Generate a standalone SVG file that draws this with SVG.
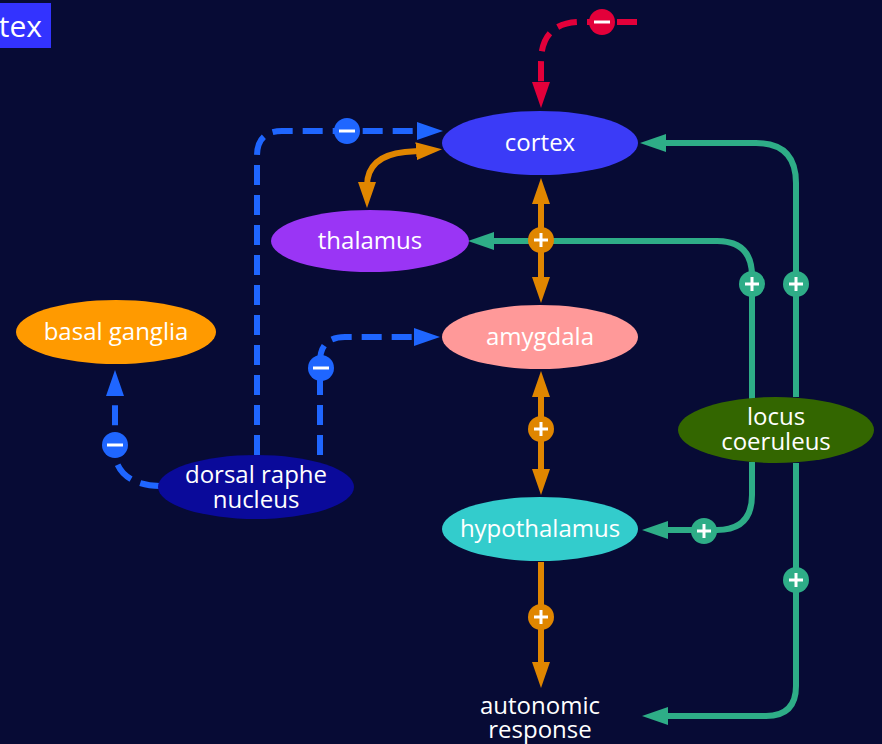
<svg xmlns="http://www.w3.org/2000/svg" width="882" height="744" viewBox="0 0 882 744">
<defs>
<style>
.lbl{font-family:"Open Sans","Noto Sans","Liberation Sans",sans-serif;font-size:24px;fill:#ffffff;text-anchor:middle}
.or{fill:none;stroke:#e08600;stroke-width:6}
.gr{fill:none;stroke:#2ead87;stroke-width:6}
.bl{fill:none;stroke:#1f66ff;stroke-width:6;stroke-dasharray:20 10}
.rd{fill:none;stroke:#e3003a;stroke-width:6;stroke-dasharray:20 10}
.sign{stroke:#ffffff;stroke-width:3;fill:none}
</style>
<marker id="aO" viewBox="0 0 26 18" refX="16" refY="9" markerWidth="26" markerHeight="18" markerUnits="userSpaceOnUse" orient="auto-start-reverse"><path d="M0,0 L26,9 L0,18 Z" fill="#e08600"/></marker>
<marker id="aG" viewBox="0 0 26 18" refX="16" refY="9" markerWidth="26" markerHeight="18" markerUnits="userSpaceOnUse" orient="auto"><path d="M0,0 L26,9 L0,18 Z" fill="#2ead87"/></marker>
<marker id="aB" viewBox="0 0 26 18" refX="16" refY="9" markerWidth="26" markerHeight="18" markerUnits="userSpaceOnUse" orient="auto"><path d="M0,0 L26,9 L0,18 Z" fill="#1f66ff"/></marker>
<marker id="aR" viewBox="0 0 26 18" refX="16" refY="9" markerWidth="26" markerHeight="18" markerUnits="userSpaceOnUse" orient="auto"><path d="M0,0 L26,9 L0,18 Z" fill="#e3003a"/></marker>
<g id="plus"><line x1="-7" y1="0" x2="7" y2="0"/><line x1="0" y1="-7" x2="0" y2="7"/></g>
</defs>
<rect width="882" height="744" fill="#070b35"/>
<g id="title">
<rect x="-5" y="3" width="56" height="45" fill="#3333ff"/>
<text x="42" y="37" style="font-family:'Open Sans','Noto Sans',sans-serif;font-size:30px;fill:#fff;text-anchor:end">tex</text>
</g>
<g id="connectors">
<path class="gr" d="M796 397 L796 183 Q796 143 756 143 L650 143" marker-end="url(#aG)"/>
<path class="gr" d="M796 463 L796 686 Q796 716 766 716 L652 716" marker-end="url(#aG)"/>
<path class="gr" d="M752 400 L752 276 Q752 241 717 241 L478 241" marker-end="url(#aG)"/>
<path class="gr" d="M752 462 L752 495 Q752 530 717 530 L652 530" marker-end="url(#aG)"/>
<path class="or" d="M541 188 L541 293" marker-start="url(#aO)" marker-end="url(#aO)"/>
<path class="or" d="M541 381 L541 485" marker-start="url(#aO)" marker-end="url(#aO)"/>
<path class="or" d="M541 562 L541 678" marker-end="url(#aO)"/>
<path class="or" d="M367 198 L367 186 Q367 156 405 152 L432 150" marker-start="url(#aO)" marker-end="url(#aO)"/>
<path class="bl" d="M257 455 L257 156 Q257 131 282 131 L433 131" marker-end="url(#aB)"/>
<path class="bl" d="M320 455 L320 362 Q320 337 345 337 L430 337" marker-end="url(#aB)"/>
<path class="bl" d="M160 486 C132 486 115 472 115 452 L115 380" marker-end="url(#aB)"/>
<path class="rd" d="M637 22 L581 22 Q541 22 541 62 L541 98" marker-end="url(#aR)"/>
<g fill="#2ead87">
<circle cx="752" cy="284" r="13"/><circle cx="796" cy="284" r="13"/>
<circle cx="796" cy="580" r="13"/><circle cx="704" cy="531" r="13"/>
</g>
<g fill="#e08600">
<circle cx="541" cy="240" r="13"/><circle cx="541" cy="429" r="13"/><circle cx="541" cy="617" r="13"/>
</g>
<g class="sign">
<use href="#plus" x="752" y="284"/><use href="#plus" x="796" y="284"/>
<use href="#plus" x="796" y="580"/><use href="#plus" x="704" y="531"/>
<use href="#plus" x="541" y="240"/><use href="#plus" x="541" y="429"/><use href="#plus" x="541" y="617"/>
</g>
<g fill="#1f66ff">
<circle cx="347" cy="131" r="13"/><circle cx="321" cy="368" r="13"/><circle cx="115" cy="445" r="13"/>
</g>
<circle cx="602" cy="22" r="13" fill="#e3003a"/>
<g class="sign">
<line x1="339" y1="131" x2="355" y2="131"/><line x1="313" y1="368" x2="329" y2="368"/>
<line x1="107" y1="445" x2="123" y2="445"/><line x1="594" y1="22" x2="610" y2="22"/>
</g>
</g>
<g id="cortex"><ellipse cx="540" cy="143" rx="98" ry="32" fill="#3b3bf7"/><text class="lbl" x="540" y="151">cortex</text></g>
<g id="thalamus"><ellipse cx="370" cy="241" rx="99" ry="31" fill="#9a35f5"/><text class="lbl" x="370" y="249">thalamus</text></g>
<g id="amygdala"><ellipse cx="540" cy="337" rx="98" ry="32" fill="#ff9999"/><text class="lbl" x="540" y="345">amygdala</text></g>
<g id="basal-ganglia"><ellipse cx="116" cy="332" rx="100" ry="32" fill="#ff9a00"/><text class="lbl" x="116" y="340">basal ganglia</text></g>
<g id="dorsal-raphe"><ellipse cx="256" cy="487" rx="98" ry="32" fill="#0a0a9a"/><text class="lbl" x="256" y="483">dorsal raphe</text><text class="lbl" x="256" y="508">nucleus</text></g>
<g id="hypothalamus"><ellipse cx="540" cy="529" rx="98" ry="32" fill="#33cccc"/><text class="lbl" x="540" y="537">hypothalamus</text></g>
<g id="locus-coeruleus"><ellipse cx="776" cy="430" rx="98" ry="33" fill="#336600"/><text class="lbl" x="776" y="425">locus</text><text class="lbl" x="776" y="450">coeruleus</text></g>
<g id="autonomic-response"><text class="lbl" x="540" y="714">autonomic</text><text class="lbl" x="540" y="738">response</text></g>
</svg>
